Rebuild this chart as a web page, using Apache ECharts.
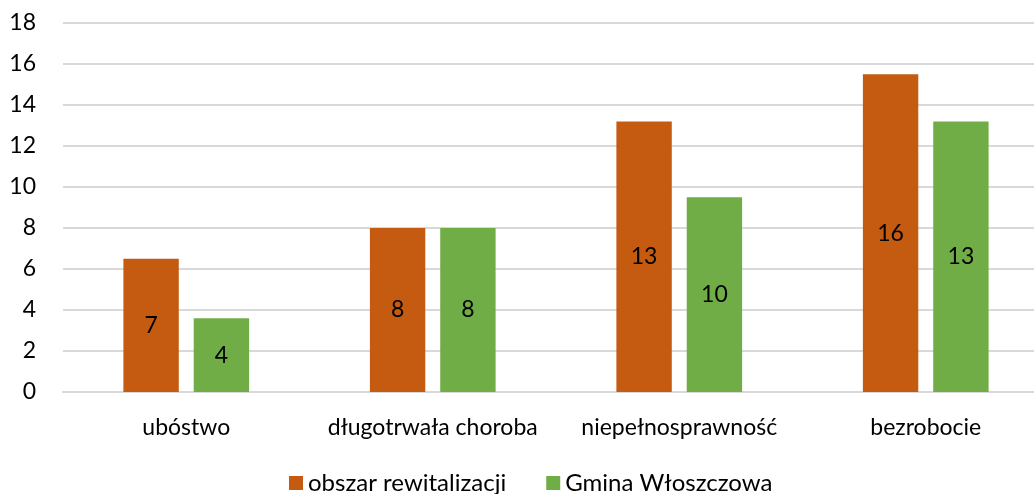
<!DOCTYPE html>
<html>
<head>
<meta charset="utf-8">
<script src="https://cdn.jsdelivr.net/npm/echarts@6/dist/echarts.min.js"></script>
<style>
  html, body { margin: 0; padding: 0; background: #fff; overflow: hidden; }
  #chart { width: 1050px; height: 494px; }
</style>
</head>
<body>
<div id="chart"></div>
<script>
var categories = ["ubóstwo", "długotrwała choroba", "niepełnosprawność", "bezrobocie"];
var seriesNames = ["obszar rewitalizacji", "Gmina Włoszczowa"];
var obszarValues = [6.5, 8, 13.2, 15.5];
var gminaValues = [3.6, 8, 9.5, 13.2];
var yTicks = { min: 0, max: 18, interval: 2 };

var font = "Lato, 'Open Sans', sans-serif";
// the plot runs a little past the right edge of the window, like the original
var chart = echarts.init(document.getElementById("chart"));

var labelOpt = {
  show: true,
  position: "inside",
  color: "#000",
  fontFamily: font,
  fontSize: 23,
  formatter: function (p) { return Math.round(p.value); }
};

chart.setOption({
  animation: false,
  grid: { left: 63, top: 23, width: 986, height: 369, containLabel: false },
  legend: {
    bottom: -6,
    left: 284,
    itemWidth: 14,
    itemHeight: 14,
    itemGap: 40,
    icon: "rect",
    textStyle: { fontFamily: font, fontSize: 24, color: "#000" },
    data: seriesNames
  },
  xAxis: {
    type: "category",
    data: categories,
    axisLine: { lineStyle: { color: "#d9d9d9", width: 2 } },
    axisTick: { show: false },
    axisLabel: { color: "#000", fontFamily: font, fontSize: 23, margin: 24, interval: 0 }
  },
  yAxis: {
    type: "value",
    min: yTicks.min,
    max: yTicks.max,
    interval: yTicks.interval,
    axisLine: { show: false },
    axisTick: { show: false },
    splitLine: { lineStyle: { color: "#d9d9d9", width: 2 } },
    axisLabel: { color: "#000", fontFamily: font, fontSize: 23, margin: 27 }
  },
  series: [
    {
      name: seriesNames[0],
      type: "bar",
      data: obszarValues,
      itemStyle: { color: "#c55a11" },
      barGap: "27%",
      barCategoryGap: "49%",
      label: labelOpt
    },
    {
      name: seriesNames[1],
      type: "bar",
      data: gminaValues,
      itemStyle: { color: "#70ad47" },
      label: labelOpt
    }
  ]
});
</script>
</body>
</html>
